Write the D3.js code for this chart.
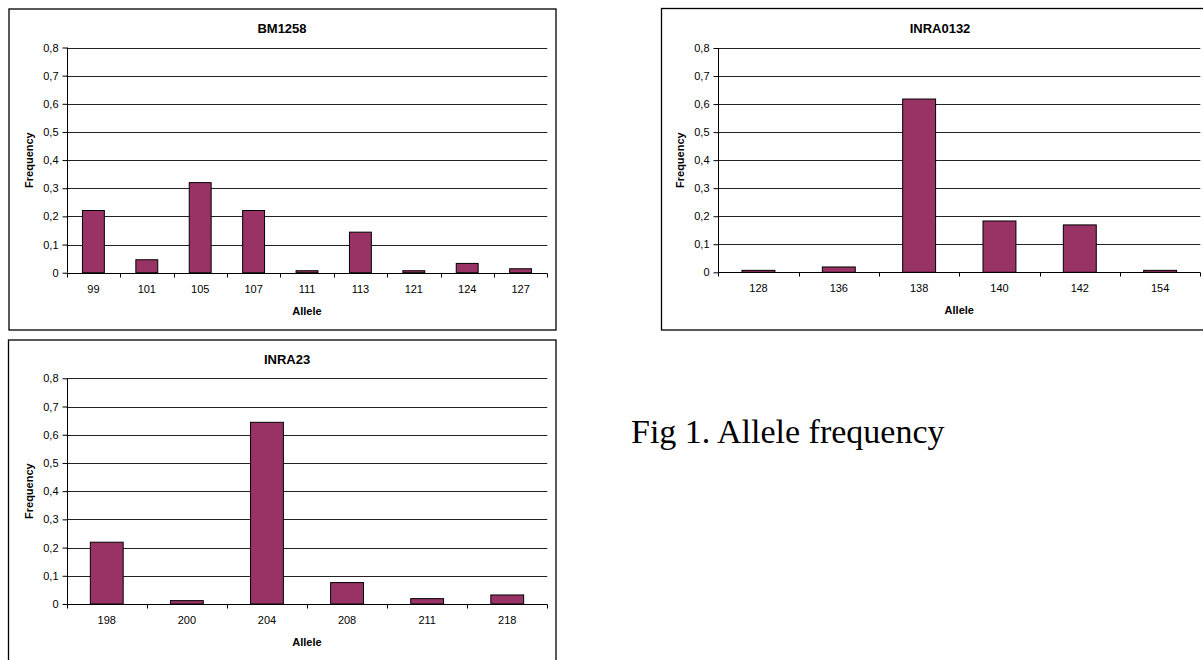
<!DOCTYPE html>
<html>
<head>
<meta charset="utf-8">
<script src="https://cdn.jsdelivr.net/npm/d3@7"></script>
<style>
  html, body { margin: 0; padding: 0; background: #fff; }
  svg { display: block; }
</style>
</head>
<body>
<svg id="chart" width="1203" height="660"></svg>
<script>
// ---- Data ----
const bm1258Alleles = ["99", "101", "105", "107", "111", "113", "121", "124", "127"];
const bm1258Freq    = [0.221, 0.046, 0.320, 0.221, 0.007, 0.144, 0.007, 0.033, 0.014];

const inra0132Alleles = ["128", "136", "138", "140", "142", "154"];
const inra0132Freq    = [0.007, 0.019, 0.618, 0.183, 0.169, 0.007];

const inra23Alleles = ["198", "200", "204", "208", "211", "218"];
const inra23Freq    = [0.219, 0.012, 0.644, 0.076, 0.019, 0.032];

const yTicks = [0, 0.1, 0.2, 0.3, 0.4, 0.5, 0.6, 0.7, 0.8];
const yTickLabels = ["0", "0,1", "0,2", "0,3", "0,4", "0,5", "0,6", "0,7", "0,8"];

const titles = ["BM1258", "INRA0132", "INRA23"];
const xAxisTitle = "Allele";
const yAxisTitle = "Frequency";
const caption = "Fig 1. Allele frequency";

// ---- Drawing ----
const svg = d3.select("#chart");
const FONT = "'Liberation Sans', Arial, sans-serif";
const BAR = "#993366";

function panel(opt) {
  const g = svg.append("g");
  // frame
  g.append("rect")
    .attr("x", opt.bx).attr("y", opt.by).attr("width", opt.bw).attr("height", opt.bh)
    .attr("fill", "#fff").attr("stroke", "#000").attr("stroke-width", 1.3);

  const x = d3.scaleBand().domain(opt.cats).range([opt.px0, opt.px1]).paddingInner(0.59).paddingOuter(0.295);
  const xb = d3.scaleBand().domain(opt.cats).range([opt.px0, opt.px1]).padding(0);
  const y = d3.scaleLinear().domain([0, 0.8]).range([opt.py0, opt.py1]);

  // gridlines
  g.append("g").selectAll("line").data(yTicks.slice(1)).join("line")
    .attr("x1", opt.px0).attr("x2", opt.px1)
    .attr("y1", d => Math.round(y(d)) + 0.5).attr("y2", d => Math.round(y(d)) + 0.5)
    .attr("stroke", "#222").attr("stroke-width", 1);

  // bars
  g.append("g").selectAll("rect").data(opt.vals).join("rect")
    .attr("x", (d, i) => x(opt.cats[i]))
    .attr("width", x.bandwidth())
    .attr("y", d => y(d))
    .attr("height", d => y(0) - y(d))
    .attr("fill", BAR).attr("stroke", "#000").attr("stroke-width", 1);

  // y axis
  const yAxis = d3.axisLeft(y).tickValues(yTicks).tickSize(5).tickPadding(4)
    .tickFormat((d, i) => yTickLabels[i]);
  const ya = g.append("g").attr("transform", `translate(${Math.round(opt.px0) + 0.5},0)`).call(yAxis);
  ya.select(".domain").attr("stroke", "#000").attr("d", `M0,${y(0.8)}V${y(0)}`);
  ya.selectAll(".tick line").attr("stroke", "#000");
  ya.selectAll("text").attr("font-family", FONT).attr("font-size", 11).attr("fill", "#000");

  // x axis
  const xAxis = d3.axisBottom(xb).tickSize(0).tickPadding(12);
  const xa = g.append("g").attr("transform", `translate(0,${Math.round(y(0)) + 0.5})`).call(xAxis);
  xa.select(".domain").attr("stroke", "#000").attr("d", `M${opt.px0},0H${opt.px1}`);
  xa.selectAll("text").attr("font-family", FONT).attr("font-size", 11).attr("fill", "#000");
  // boundary tick marks
  const bounds = opt.cats.map(c => xb(c)).concat([opt.px1]);
  xa.append("g").selectAll("line").data(bounds).join("line")
    .attr("x1", d => Math.round(d) + 0.5).attr("x2", d => Math.round(d) + 0.5)
    .attr("y1", 0).attr("y2", 4).attr("stroke", "#000");

  // title
  g.append("text").attr("x", opt.tx).attr("y", opt.by + 24)
    .attr("text-anchor", "middle").attr("font-family", FONT).attr("font-weight", "bold")
    .attr("font-size", 13).text(opt.title);

  // x axis title
  g.append("text").attr("x", (opt.px0 + opt.px1) / 2).attr("y", y(0) + 42)
    .attr("text-anchor", "middle").attr("font-family", FONT).attr("font-weight", "bold")
    .attr("font-size", 11).text(xAxisTitle);

  // y axis title
  const ymid = (y(0) + y(0.8)) / 2;
  g.append("text").attr("transform", `translate(${opt.px0 - 34},${ymid}) rotate(-90)`)
    .attr("text-anchor", "middle").attr("font-family", FONT).attr("font-weight", "bold")
    .attr("font-size", 11).text(yAxisTitle);
}

panel({ bx: 9, by: 9, bw: 547, bh: 321, px0: 66.7, px1: 547.3, py0: 272.7, py1: 47.5,
        cats: bm1258Alleles, vals: bm1258Freq, title: titles[0], tx: 282 });
panel({ bx: 661.5, by: 8.5, bw: 560, bh: 321.5, px0: 718.3, px1: 1200.3, py0: 272.3, py1: 48,
        cats: inra0132Alleles, vals: inra0132Freq, title: titles[1], tx: 940 });
panel({ bx: 8.5, by: 340, bw: 547.5, bh: 340, px0: 66.7, px1: 547.3, py0: 604, py1: 378.3,
        cats: inra23Alleles, vals: inra23Freq, title: titles[2], tx: 287 });

svg.append("text").attr("x", 631).attr("y", 443)
  .attr("font-family", "'Liberation Serif', 'Times New Roman', serif")
  .attr("font-size", 34).attr("fill", "#000").text(caption);
</script>
</body>
</html>
